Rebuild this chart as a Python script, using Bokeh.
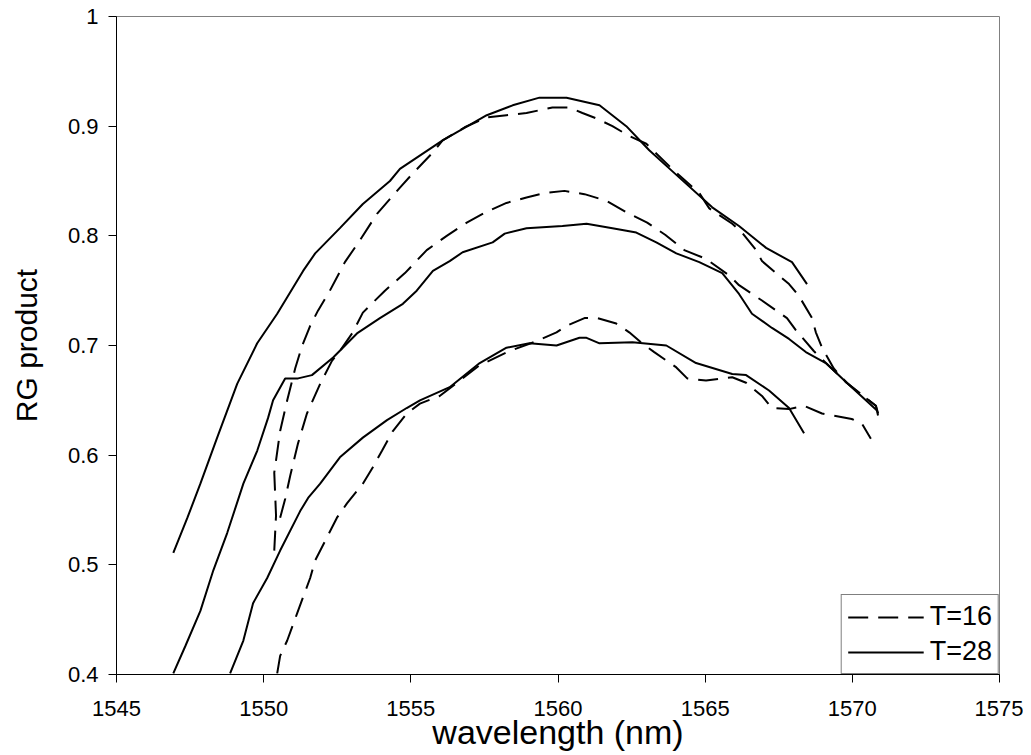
from bokeh.plotting import figure
from bokeh.models import Range1d, FixedTicker, CustomJSTickFormatter, Legend, LegendItem
from bokeh.embed import file_html
from bokeh.resources import INLINE

# ---- data (wavelength nm, RG product) ----
t16_top_x = [1550.36, 1550.42, 1550.36, 1550.56, 1550.80, 1551.07, 1551.31, 1551.58, 1551.85, 1552.25,
             1552.76, 1553.27, 1553.85, 1554.63, 1555.07, 1555.75, 1556.08, 1556.83, 1557.58, 1558.25,
             1558.93, 1559.81, 1560.39, 1560.83, 1561.31, 1561.85, 1562.42, 1563.00, 1563.88, 1564.80,
             1565.14, 1565.92, 1566.25, 1566.73, 1566.93, 1567.85, 1568.19, 1568.63, 1568.76, 1568.97,
             1569.37, 1569.81, 1570.22, 1570.80, 1570.90]
t16_top_y = [0.513, 0.545, 0.584, 0.622, 0.650, 0.679, 0.700, 0.718, 0.732, 0.750,
             0.776, 0.796, 0.820, 0.844, 0.857, 0.876, 0.887, 0.899, 0.908, 0.910,
             0.912, 0.917, 0.917, 0.912, 0.907, 0.900, 0.891, 0.884, 0.861, 0.839,
             0.825, 0.811, 0.803, 0.787, 0.777, 0.756, 0.745, 0.725, 0.712, 0.698,
             0.679, 0.666, 0.657, 0.645, 0.636]

t16_mid_x = [1550.56, 1550.73, 1550.90, 1551.17, 1551.47, 1551.92, 1552.32, 1552.59, 1553.03, 1553.37,
             1554.12, 1554.80, 1555.54, 1556.22, 1556.90, 1557.58, 1558.25, 1558.93, 1559.54, 1560.22,
             1560.90, 1561.64, 1562.36, 1563.03, 1563.64, 1564.29, 1565.03, 1565.81, 1566.15, 1566.93,
             1567.78, 1568.08, 1568.69, 1569.10, 1569.81, 1570.80, 1570.90]
t16_mid_y = [0.543, 0.560, 0.581, 0.611, 0.638, 0.665, 0.686, 0.695, 0.712, 0.730,
             0.750, 0.766, 0.787, 0.800, 0.812, 0.822, 0.830, 0.835, 0.839, 0.841,
             0.838, 0.832, 0.821, 0.812, 0.801, 0.787, 0.779, 0.764, 0.755, 0.741,
             0.725, 0.714, 0.695, 0.684, 0.666, 0.645, 0.633]

t16_low_x = [1550.46, 1550.56, 1550.80, 1551.14, 1551.58, 1551.75, 1552.15, 1552.49, 1552.83, 1553.37,
             1553.71, 1554.02, 1554.39, 1554.86, 1555.31, 1555.98, 1556.66, 1557.34, 1558.36, 1559.27,
             1559.95, 1560.29, 1560.90, 1561.34, 1561.98, 1562.42, 1562.86, 1563.27, 1564.02, 1564.39,
             1565.03, 1565.92, 1566.39, 1566.93, 1567.27, 1567.85, 1568.36, 1568.97, 1569.98, 1570.32,
             1570.63]
t16_low_y = [0.401, 0.417, 0.431, 0.456, 0.488, 0.504, 0.525, 0.543, 0.556, 0.574,
             0.589, 0.604, 0.622, 0.638, 0.647, 0.654, 0.668, 0.682, 0.695, 0.704,
             0.712, 0.718, 0.725, 0.725, 0.720, 0.712, 0.702, 0.694, 0.680, 0.670,
             0.668, 0.671, 0.666, 0.654, 0.643, 0.642, 0.645, 0.638, 0.633, 0.629,
             0.615]

t28_top_x = [1546.93, 1547.41, 1547.85, 1548.42, 1549.10, 1549.78, 1550.46, 1550.80, 1551.34, 1551.75,
             1552.59, 1553.37, 1554.29, 1554.63, 1556.08, 1557.58, 1558.46, 1559.37, 1560.29, 1561.41,
             1562.32, 1563.10, 1563.88, 1565.24, 1566.15, 1567.07, 1567.95, 1568.46]
t28_top_y = [0.511, 0.543, 0.574, 0.616, 0.665, 0.702, 0.729, 0.744, 0.768, 0.784,
             0.807, 0.829, 0.850, 0.861, 0.887, 0.910, 0.919, 0.926, 0.926, 0.919,
             0.900, 0.878, 0.859, 0.826, 0.809, 0.789, 0.776, 0.756]

t28_mid_x = [1546.93, 1547.34, 1547.85, 1548.29, 1548.76, 1549.31, 1549.78, 1550.15, 1550.32, 1550.73,
             1551.17, 1551.64, 1552.36, 1553.17, 1553.95, 1554.73, 1555.20, 1555.75, 1556.32, 1556.76,
             1557.78, 1558.19, 1558.93, 1560.15, 1560.97, 1561.85, 1562.66, 1563.34, 1564.02, 1564.80,
             1565.58, 1566.15, 1566.59, 1567.27, 1567.85, 1568.42, 1569.10, 1569.81, 1570.83]
t28_mid_y = [0.401, 0.426, 0.458, 0.495, 0.529, 0.574, 0.604, 0.634, 0.650, 0.670,
             0.670, 0.673, 0.689, 0.711, 0.725, 0.738, 0.750, 0.768, 0.777, 0.785,
             0.794, 0.802, 0.807, 0.809, 0.811, 0.807, 0.803, 0.794, 0.784, 0.776,
             0.766, 0.747, 0.729, 0.716, 0.706, 0.694, 0.684, 0.666, 0.641]

t28_low_x = [1548.86, 1549.31, 1549.64, 1550.12, 1550.56, 1551.24, 1551.51, 1551.92, 1552.59, 1553.37,
             1554.19, 1554.86, 1555.31, 1556.32, 1557.34, 1558.25, 1559.03, 1559.95, 1560.73, 1560.97,
             1561.41, 1562.53, 1563.68, 1564.69, 1565.92, 1566.39, 1567.17, 1567.85, 1568.36]
t28_low_y = [0.401, 0.431, 0.465, 0.488, 0.513, 0.549, 0.561, 0.574, 0.598, 0.616,
             0.632, 0.643, 0.650, 0.662, 0.684, 0.698, 0.702, 0.700, 0.707, 0.707,
             0.702, 0.703, 0.700, 0.684, 0.674, 0.673, 0.659, 0.643, 0.620]

x_ticks = [1545, 1550, 1555, 1560, 1565, 1570, 1575]
y_ticks = [0.4, 0.5, 0.6, 0.7, 0.8, 0.9, 1.0]
series_labels = ["T=16", "T=28"]

FONT = "Liberation Sans"
DASH = "20 10"

p = figure(frame_width=883, frame_height=658, min_border_left=116, min_border_right=24,
           min_border_top=16, min_border_bottom=72,
           x_range=Range1d(1545, 1575), y_range=Range1d(0.4, 1.0),
           output_backend="svg", toolbar_location=None,
           background_fill_color="white", border_fill_color="white")

p.outline_line_color = "#808080"
p.outline_line_width = 1
p.xgrid.visible = False
p.ygrid.visible = False

for ax in (p.xaxis[0], p.yaxis[0]):
    ax.axis_line_color = "black"
    ax.axis_line_width = 1
    ax.major_tick_line_color = "black"
    ax.major_tick_in = 0
    ax.major_tick_out = 8
    ax.minor_tick_line_color = None
    ax.major_label_text_font = FONT
    ax.major_label_text_font_size = "22px"
    ax.major_label_text_color = "black"
    ax.axis_label_text_font = FONT
    ax.axis_label_text_font_style = "normal"
    ax.axis_label_text_color = "black"
    ax.axis_label_text_font_size = "30px"

p.xaxis.axis_label_text_font_size = "34px"
p.xaxis.ticker = FixedTicker(ticks=x_ticks)
p.yaxis.ticker = FixedTicker(ticks=y_ticks)
p.yaxis.formatter = CustomJSTickFormatter(code="return tick.toFixed(1).replace(/\\.0$/, '');")
p.xaxis.major_label_standoff = 18
p.yaxis.major_label_standoff = 10
p.xaxis.axis_label = "wavelength (nm)"
p.yaxis.axis_label = "RG product"
p.xaxis.axis_label_standoff = -6
p.yaxis.axis_label_standoff = 22

dashed = []
for xs, ys in ((t16_top_x, t16_top_y), (t16_mid_x, t16_mid_y), (t16_low_x, t16_low_y)):
    r = p.line(xs, ys, line_color="black", line_width=2, line_dash=DASH)
    dashed.append(r)
solid = []
for xs, ys in ((t28_top_x, t28_top_y), (t28_mid_x, t28_mid_y), (t28_low_x, t28_low_y)):
    r = p.line(xs, ys, line_color="black", line_width=2)
    solid.append(r)

legend = Legend(items=[LegendItem(label=series_labels[0], renderers=[dashed[0]]),
                       LegendItem(label=series_labels[1], renderers=[solid[0]])],
                location="bottom_right", margin=0, padding=6, spacing=4,
                glyph_width=76, glyph_height=30, label_height=30, label_standoff=6,
                label_text_font=FONT, label_text_font_size="27px", label_text_color="black",
                border_line_color="black", border_line_width=1,
                background_fill_color="white", background_fill_alpha=1.0)
p.add_layout(legend)

open("out.html", "w").write(file_html(p, INLINE))
